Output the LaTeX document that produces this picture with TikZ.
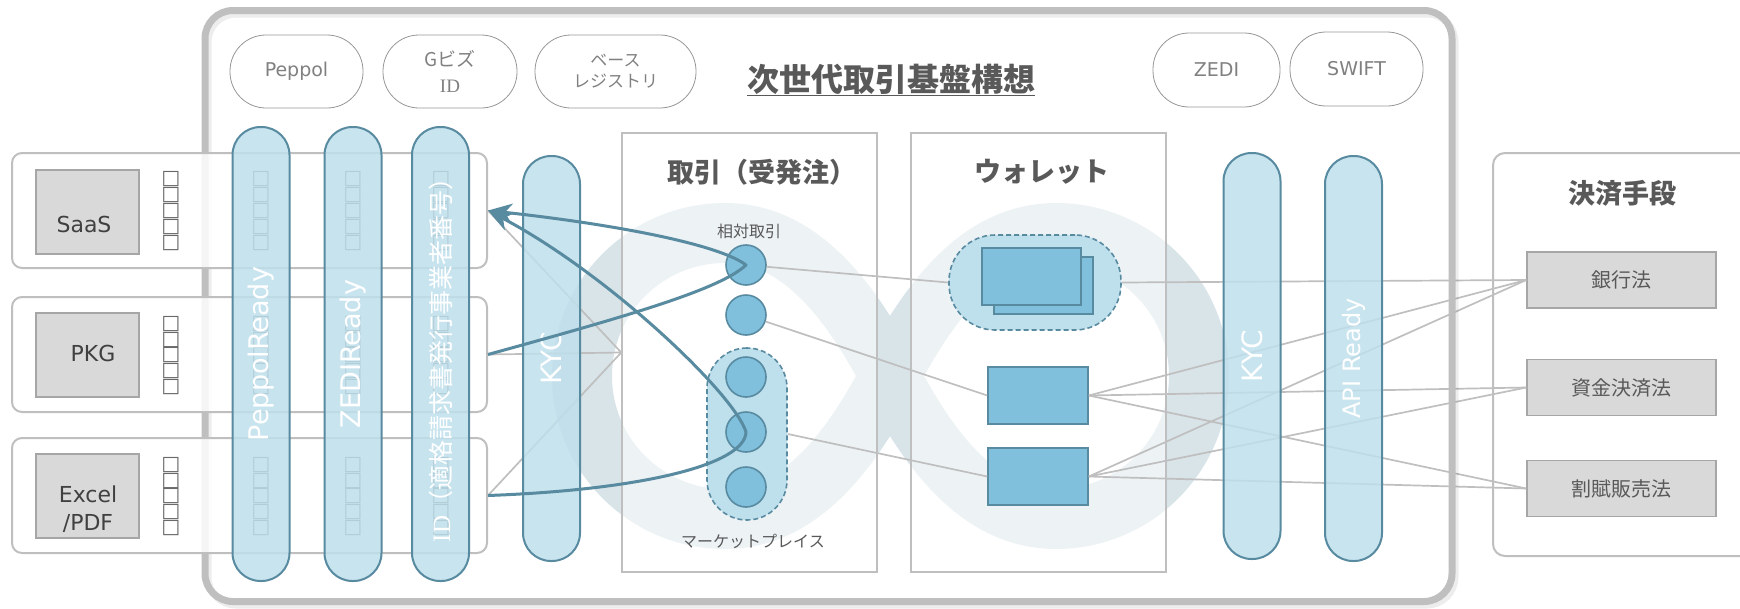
\documentclass[tikz,border=0pt]{standalone}
\usepackage{fontspec}
\setmainfont{DejaVu Sans}
\newfontfamily\cjk{Noto Sans CJK JP}
\newfontfamily\idserif{Liberation Serif}
\usetikzlibrary{arrows.meta}
\definecolor{pillfill}{RGB}{190,223,236}
\definecolor{pillline}{RGB}{88,138,160}
\definecolor{circfill}{RGB}{128,192,221}
\definecolor{lgray}{RGB}{191,191,191}
\definecolor{boxgray}{RGB}{217,217,217}
\definecolor{boxline}{RGB}{166,166,166}
\definecolor{txt}{RGB}{89,89,89}
\definecolor{tofuc}{RGB}{105,105,105}
\definecolor{darktxt}{RGB}{64,64,64}
\definecolor{logoc}{RGB}{217,228,233}
\definecolor{tgray}{RGB}{150,150,150}
\definecolor{ttext}{RGB}{128,128,128}
\newcommand{\tofurow}{□\kern-3pt□\kern-3pt□\kern-3pt□\kern-3pt□}
\begin{document}
\begin{tikzpicture}[x=1pt,y=-1pt,
  colbox/.style={draw=lgray, line width=1.5pt, fill=white, fill opacity=0.55, minimum width=255pt, minimum height=439pt, inner sep=0pt},
  ttl/.style={text=txt, font=\cjk\bfseries\fontsize{27}{32}\selectfont, inner sep=0pt},
  smalltxt/.style={text=txt, font=\cjk\fontsize{16}{19}\selectfont, inner sep=0pt},
  dpill/.style={draw=pillline, dash pattern=on 5pt off 3pt, line width=1.6pt, fill=pillfill, inner sep=0pt},
  circ/.style={circle, draw=pillline, line width=1.6pt, fill=circfill, minimum size=40pt, inner sep=0pt},
  wrect/.style={draw=pillline, line width=1.6pt, fill=circfill, minimum width=100pt, minimum height=57pt, inner sep=0pt},
  rowbox/.style={draw=lgray, line width=2pt, fill=white, fill opacity=0.85, rounded corners=10pt, inner sep=0pt},
  lawbox/.style={draw=boxline, line width=1.5pt, fill=boxgray, minimum width=189pt, minimum height=56pt, inner sep=0pt, text=txt, font=\cjk\fontsize{20}{24}\selectfont},
  appbox/.style={draw=boxline, line width=1.5pt, fill=boxgray, minimum width=103pt, minimum height=84pt, inner sep=0pt},
  apptxt/.style={text=darktxt, font=\fontsize{22}{28}\selectfont, align=center, inner sep=0pt},
  tofu/.style={text=tofuc, font=\fontsize{20}{22}\selectfont, rotate=90, inner sep=0pt},
  gline/.style={draw=lgray, line width=1.7pt},
  pill/.style={draw=pillline, line width=2pt, fill=pillfill, fill opacity=0.85, text opacity=1, rounded corners=28pt, rotate=90, minimum height=57pt, inner sep=0pt, text=white},
  tpill/.style={draw=tgray, line width=0.8pt, rounded corners=36pt, minimum height=73pt, inner sep=0pt, text=ttext, align=center},
  tarrow/.style={draw=pillline, line width=3pt, line join=round, -{Stealth[length=24pt,width=19pt,inset=7pt]}}
]
\useasboundingbox (0,0) rectangle (1740,608);

% background logo
\draw[logoc, line width=60pt]
  (890,376) .. controls (930,300) and (980,233) .. (1056,233)
  .. controls (1135,233) and (1199,297) .. (1199,376)
  .. controls (1199,455) and (1135,519) .. (1056,519)
  .. controls (980,519) and (930,452) .. (890,376)
  .. controls (850,300) and (800,233) .. (725,233)
  .. controls (646,233) and (582,297) .. (582,376)
  .. controls (582,455) and (646,519) .. (725,519)
  .. controls (800,519) and (850,452) .. (890,376) -- cycle;

% trade and wallet columns
\node[colbox] (tb) at (749.5,352.5) {};
\node[colbox] (wb) at (1038.5,352.5) {};
\node[ttl] (tbT) at (762,172) {取引（受発注）};
\node[ttl] (wbT) at (1042,172) {ウォレット};
\node[smalltxt] (sotai) at (749,231) {相対取引};
\node[dpill, minimum width=80pt, minimum height=172pt, rounded corners=40pt] (mp) at (747,434) {};
\node[circ] (c1) at (746,265) {};
\node[circ] (c2) at (746,315) {};
\node[circ] (c3) at (746,377) {};
\node[circ] (c4) at (746,432) {};
\node[circ] (c5) at (746,487) {};
\node[smalltxt] (mkt) at (753,541) {マーケットプレイス};

\node[dpill, minimum width=172pt, minimum height=95pt, rounded corners=46pt] (wp) at (1035,282.5) {};
\node[wrect, minimum width=99pt] (wback) at (1043.5,285.5) {};
\node[wrect, minimum width=99pt] (wfront) at (1031.5,276.5) {};
\node[wrect] (r1) at (1038,395.5) {};
\node[wrect] (r2) at (1038,476.5) {};

% payment methods
\node[rowbox, fill opacity=1, minimum width=270pt, minimum height=403pt, rounded corners=12pt] (pay) at (1628,354.5) {};
\node[ttl] (payT) at (1622,193) {決済手段};
\node[lawbox] (bank) at (1621.5,280) {銀行法};
\node[lawbox] (fund) at (1621.5,387.5) {資金決済法};
\node[lawbox] (inst) at (1621.5,488.5) {割賦販売法};

% grey connectors (middle and right)
\draw[gline] (c1) -- (wp.west);
\draw[gline] (c2) -- (r1.west);
\draw[gline] (mp.east) -- (r2.west);
\draw[gline] (wp.east) -- (bank.west);
\draw[gline] (r1.east) -- (bank.west);
\draw[gline] (r1.east) -- (fund.west);
\draw[gline] (r1.east) -- (inst.west);
\draw[gline] (r2.east) -- (bank.west);
\draw[gline] (r2.east) -- (fund.west);
\draw[gline] (r2.east) -- (inst.west);

% main frame
\draw[line width=7pt, black, opacity=0.07, rounded corners=28pt] (208,14) rectangle (1455,605);
\draw[line width=7pt, lgray, rounded corners=28pt] (205,10.5) rectangle (1452,601.5);

% application rows
\node[rowbox, minimum width=475pt, minimum height=115pt] (rowSaaS) at (249.5,210.5) {};
\node[rowbox, minimum width=475pt, minimum height=115pt] (rowPKG) at (249.5,354.5) {};
\node[rowbox, minimum width=475pt, minimum height=115pt] (rowExcel) at (249.5,495.5) {};
\node[appbox] (saas) at (87.5,212) {};
\node[appbox] (pkg) at (87.5,355) {};
\node[appbox] (excel) at (87.5,496) {};
\node[apptxt] (saasT) at (84,224) {SaaS};
\node[apptxt] (pkgT) at (93,353) {PKG};
\node[apptxt] (excelT) at (88,509) {Excel\\/PDF};
\foreach \xx/\cc in {171/a,261/b,353/c,441/d}{
  \node[tofu] (tofu1\cc) at (\xx,211) {\tofurow};
  \node[tofu] (tofu2\cc) at (\xx,355.5) {\tofurow};
  \node[tofu] (tofu3\cc) at (\xx,496.5) {\tofurow};
}

\draw[gline] (rowSaaS.east) -- (tb.west);
\draw[gline] (rowPKG.east) -- (tb.west);
\draw[gline] (rowExcel.east) -- (tb.west);

% vertical pills
\node[pill, minimum width=454pt, font=\fontsize{27}{30}\selectfont] (pp) at (261,354) {PeppolReady};
\node[pill, minimum width=454pt, font=\fontsize{27}{30}\selectfont] (zr) at (353,354) {ZEDIReady};
\node[pill, minimum width=454pt, font=\cjk\fontsize{25}{30}\selectfont] (idp) at (440.5,354) {{\idserif ID}（適格請求書発行事業者番号）};
\node[pill, minimum width=405pt, font=\fontsize{28}{30}\selectfont] (kyc1) at (551.5,358.5) {KYC};
\node[pill, minimum width=406pt, font=\fontsize{28}{30}\selectfont] (kyc2) at (1252,356) {KYC};
\node[pill, minimum width=405pt, font=\fontsize{24}{30}\selectfont] (api) at (1353.5,358.5) {API Ready};

% top pills and title
\node[tpill, minimum width=133pt, font=\fontsize{19}{24}\selectfont] (peppol) at (296.5,71.5) {Peppol};
\node[tpill, minimum width=134pt, font=\cjk\fontsize{19}{26}\selectfont] (gbiz) at (450,71.5) {Gビズ\\{\idserif ID}};
\node[tpill, minimum width=161pt, font=\cjk\fontsize{17}{21}\selectfont] (base) at (615.5,71.5) {ベース\\レジストリ};
\node[tpill, minimum width=127pt, minimum height=74pt, font=\fontsize{19}{24}\selectfont] (zedi) at (1216.5,70) {ZEDI};
\node[tpill, minimum width=133pt, minimum height=74pt, font=\fontsize{19}{24}\selectfont] (swift) at (1356.5,69) {SWIFT};
\node[text=txt, font=\cjk\bfseries\fontsize{32}{36}\selectfont, inner sep=0pt] (title) at (891,80) {\underline{次世代取引基盤構想}};

% teal flows
\draw[tarrow] (rowPKG.east) .. controls (620,318) and (720,290) .. (c1.center)
  .. controls (720,245) and (620,225) .. (rowSaaS.east);
\draw[tarrow] (rowExcel.east) .. controls (640,490) and (745,465) .. (c4.center)
  .. controls (735,395) and (610,275) .. (rowSaaS.east);
\end{tikzpicture}
\end{document}
